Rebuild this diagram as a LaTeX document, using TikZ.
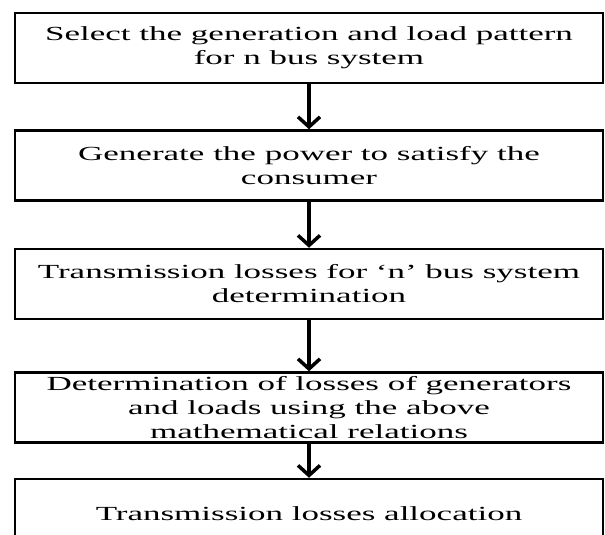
\documentclass[tikz,border=0pt]{standalone}
\usepackage{fontspec}
\setmainfont{Liberation Serif}[FakeStretch=1.75]
\usetikzlibrary{arrows.meta, positioning}

\begin{document}
\begin{tikzpicture}[
  x=1pt, y=1pt,
  box/.style={draw, line width=2.5pt, minimum width=588pt,
              minimum height=70pt, align=center, inner xsep=2pt, inner ysep=0pt,
              font=\fontsize{20pt}{24pt}\selectfont},
  arr/.style={-{Straight Barb[length=10pt, width=22pt]}, line width=3.5pt}
]
  \useasboundingbox (0,0) rectangle (605,-535);
  \clip (0,0) rectangle (605,-535);

  \node[box] (Sel) at (309,-48) {Select the generation and load pattern\\for n bus system};
  \node[box, below=45pt of Sel] (Gen) {Generate the power to satisfy the\\consumer};
  \node[box, below=46pt of Gen] (Loss) {Transmission losses for `n' bus system\\determination};
  \node[box, below=51pt of Loss] (Det) {Determination of losses of generators\\and loads using the above\\mathematical relations};
  \node[box, below=34pt of Det] (Alloc) {Transmission losses allocation};

  \draw[arr] (Sel)  -- (Gen);
  \draw[arr] (Gen)  -- (Loss);
  \draw[arr] (Loss) -- (Det);
  \draw[arr] (Det)  -- (Alloc);
\end{tikzpicture}
\end{document}
